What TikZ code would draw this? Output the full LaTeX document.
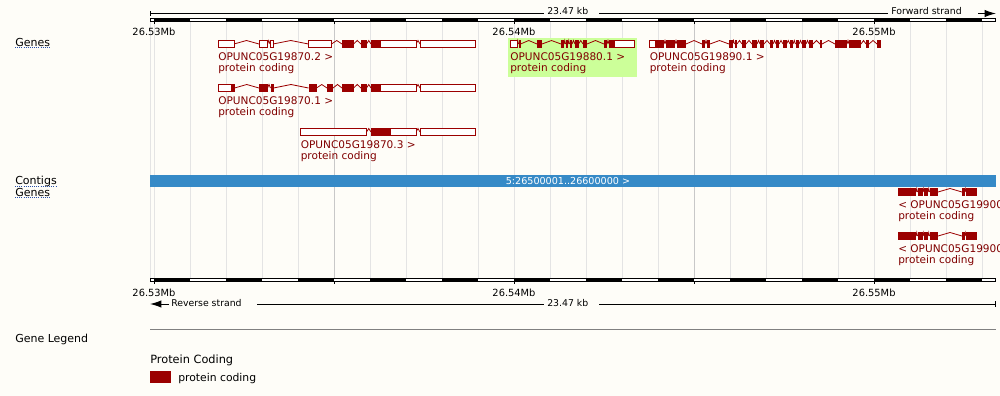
\documentclass[tikz,border=0pt]{standalone}
\usepackage{fontspec}
\setmainfont{DejaVu Sans}
\usetikzlibrary{arrows.meta}

\definecolor{bgcol}{RGB}{254,253,248}
\definecolor{genered}{RGB}{155,0,0}
\definecolor{labelred}{RGB}{128,0,0}
\definecolor{hilite}{RGB}{204,255,153}
\definecolor{contigblue}{RGB}{54,138,199}
\definecolor{gridlt}{RGB}{228,228,228}
\definecolor{griddk}{RGB}{200,200,200}
\definecolor{ulblue}{RGB}{40,80,170}

\tikzset{
  cds/.style={fill=genered},
  utr/.style={draw=genered, fill=white, line width=0.75pt},
  intron/.style={draw=genered, line width=0.6pt},
  glabel/.style={anchor=base west, inner sep=0pt, text=labelred, font=\fontsize{7.9}{9}\selectfont},
  tracklabel/.style={anchor=base west, inner sep=0pt, font=\fontsize{8.25}{10}\selectfont},
  rulerlabel/.style={anchor=base, inner sep=0pt, font=\fontsize{7.4}{9}\selectfont},
  strandlabel/.style={anchor=base west, inner sep=0pt, font=\fontsize{7}{8}\selectfont},
  trackline/.style={densely dotted, draw=ulblue, line width=0.6pt},
}

\begin{document}
\begin{tikzpicture}[x=0.75pt,y=-0.75pt]
    \useasboundingbox[fill=bgcol] (0,0) rectangle (1000,396);

    %grid
    \draw[gridlt, line width=0.75pt] (150,22) -- (150,278);
    \foreach \k in {0,...,23}
        \draw[gridlt, line width=0.75pt] ({154+36*\k},22) -- ({154+36*\k},278);
    \draw[griddk, line width=0.75pt] (334,22) -- (334,278);
    \draw[griddk, line width=0.75pt] (694,22) -- (694,278);

    %top ruler
    \draw[line width=0.75pt] (150,11) -- (150,16);
    \draw[line width=0.75pt] (150,13.5) -- (544,13.5);
    \node[strandlabel] (kbtop) at (547,14.5) {23.47 kb};
    \draw[line width=0.75pt] (599,13.5) -- (888,13.5);
    \node[strandlabel] (fwd) at (891,14.5) {Forward strand};
    \draw[line width=0.75pt] [-{Latex[length=8.5pt,width=5.5pt]}] (978,13.5) -- (996,13.5);
    \draw[line width=0.75pt, fill=white] (150,18.5) rectangle (995.5,21);
    \foreach \k in {0,...,11}
        \fill ({154+72*\k},18.5) rectangle ({190+72*\k},21);
    \foreach \x in {154,334,514,694,874}
        \draw[line width=0.75pt] (\x,21) -- (\x,24);
    \node[rulerlabel] (mbtop1) at (154,36) {26.53Mb};
    \node[rulerlabel] (mbtop2) at (514,36) {26.54Mb};
    \node[rulerlabel] (mbtop3) at (874,36) {26.55Mb};

    %track labels
    \node[tracklabel] (genestop) at (15,46) {Genes};
    \draw[trackline] ([yshift=-1.3pt]genestop.base west) -- ([yshift=-1.3pt]genestop.base east);
    \node[tracklabel] (contigs) at (15,184.5) {Contigs};
    \draw[trackline] ([yshift=-1.2pt]contigs.base west) -- ([yshift=-1.2pt]contigs.base east);
    \node[tracklabel] (genesbot) at (15,196) {Genes};
    \draw[trackline] ([yshift=-1.2pt]genesbot.base west) -- ([yshift=-1.2pt]genesbot.base east);

    %OPUNC05G19880.1 highlight
    \fill[hilite] (508,38) rectangle (637,77);

    %OPUNC05G19870.2
    \foreach \a/\b in {234/259,267.5/270,273/308.5,331.5/342,353.5/361,366.5/371,416/420}
        \draw[intron] (\a,44) -- ({(\a+\b)/2},40.5) -- (\b,44);
    \foreach \a/\b in {218/234,259/267.5,270/273,308.5/331.5,380/416,420/475.5}
        \draw[utr] (\a,40.5) rectangle (\b,47.5);
    \foreach \a/\b in {342/353.5,361/366.5,371/380}
        \fill[cds] (\a,40) rectangle (\b,48);
    \node[glabel] (t2name) at (218,60.7) {OPUNC05G19870.2 >};
    \node[glabel] (t2type) at (218,71.2) {protein coding};

    %OPUNC05G19870.1
    \begin{scope}[shift={(0,44)}]
    \foreach \a/\b in {234.5/259,267.5/270.5,273.5/308.5,316.5/327,333/342,353.5/361,366.5/371,416/420}
        \draw[intron] (\a,44) -- ({(\a+\b)/2},40.5) -- (\b,44);
    \foreach \a/\b in {218/231,380/416,420/475.5}
        \draw[utr] (\a,40.5) rectangle (\b,47.5);
    \foreach \a/\b in {231/234.5,259/267.5,270.5/273.5,308.5/316.5,327/333,342/353.5,361/366.5,371/380}
        \fill[cds] (\a,40) rectangle (\b,48);
    \node[glabel] (t1name) at (218,60.7) {OPUNC05G19870.1 >};
    \node[glabel] (t1type) at (218,71.2) {protein coding};
    \end{scope}

    %OPUNC05G19870.3
    \begin{scope}[shift={(0,88)}]
    \foreach \a/\b in {366.5/371,416/420}
        \draw[intron] (\a,44) -- ({(\a+\b)/2},40.5) -- (\b,44);
    \foreach \a/\b in {300.5/366.5,390/416,420/475.5}
        \draw[utr] (\a,40.5) rectangle (\b,47.5);
    \fill[cds] (371,40) rectangle (390,48);
    \node[glabel] (t3name) at (300.5,60.7) {OPUNC05G19870.3 >};
    \node[glabel] (t3type) at (300.5,71.2) {protein coding};
    \end{scope}

    %OPUNC05G19880.1
    \foreach \a/\b in {517/518.5,520.5/537,542/561,564/565.5,568/569.5,572/575,578.5/583,587/604,607/609}
        \draw[intron] (\a,44) -- ({(\a+\b)/2},40.5) -- (\b,44);
    \foreach \a/\b in {510/517,614/634.5}
        \draw[utr] (\a,40.5) rectangle (\b,47.5);
    \foreach \a/\b in {518.5/520.5,537/542,561/564,565.5/568,569.5/572,575/578.5,583/587,604/607,609/614}
        \fill[cds] (\a,40) rectangle (\b,48);
    \node[glabel] (t4name) at (510,60.7) {OPUNC05G19880.1 >};
    \node[glabel] (t4type) at (510,71.2) {protein coding};

    %OPUNC05G19890.1
    \foreach \a/\b in {664/666,675/677,686/702,705/707,710/729,732.5/734.5,737/742,746/752,757/760,764/770,773/776,779/783,786.5/790,793/795.5,799/802,806/809,813/820,822/835,847/849,861/866,869/877}
        \draw[intron] (\a,44) -- ({(\a+\b)/2},40.5) -- (\b,44);
    \draw[utr] (649.5,40.5) rectangle (655.5,47.5);
    \foreach \a/\b in {655.5/664,666/675,677/686,702/705,707/710,729/732.5,734.5/737,742/746,752/757,760/764,770/773,776/779,783/786.5,790/793,795.5/799,802/806,809/813,820/822,835/847,849/861,866/869,877/881}
        \fill[cds] (\a,40) rectangle (\b,48);
    \node[glabel] (t5name) at (649.5,60.7) {OPUNC05G19890.1 >};
    \node[glabel] (t5type) at (649.5,71.2) {protein coding};

    %contig
    \fill[contigblue] (150,175) rectangle (996,187);
    \node[anchor=base, inner sep=0pt, text=white, font=\fontsize{7.2}{9}\selectfont] (ctg) at (568,184.5) {5:26500001..26600000 >};

    %reverse strand genes
    \begin{scope}
    \clip (0,0) rectangle (1000,396);
    \foreach \dy/\nm in {148/r1, 192/r2} {
        \begin{scope}[shift={(0,\dy)}]
        \foreach \a/\b in {916/917.5,922.5/924,928/929.5,938/962,964.5/966}
            \draw[intron] (\a,44) -- ({(\a+\b)/2},40.5) -- (\b,44);
        \foreach \a/\b in {898/916,917.5/922.5,924/928,929.5/938,962/964.5,966/977}
            \fill[cds] (\a,40) rectangle (\b,48);
        \node[glabel] (\nm name) at (898,60.7) {< OPUNC05G19900};
        \node[glabel] (\nm type) at (898,71.2) {protein coding};
        \end{scope}
    }
    \end{scope}

    %bottom ruler
    \draw[line width=0.75pt, fill=white] (150,278.5) rectangle (995.5,281);
    \foreach \k in {0,...,11}
        \fill ({154+72*\k},278.5) rectangle ({190+72*\k},281);
    \foreach \x in {154,334,514,694,874}
        \draw[line width=0.75pt] (\x,281) -- (\x,284);
    \node[rulerlabel] (mbbot1) at (154,296.5) {26.53Mb};
    \node[rulerlabel] (mbbot2) at (514,296.5) {26.54Mb};
    \node[rulerlabel] (mbbot3) at (874,296.5) {26.55Mb};
    \draw[line width=0.75pt] [-{Latex[length=8.5pt,width=5.5pt]}] (169,304) -- (150,304);
    \node[strandlabel] (rev) at (171,306) {Reverse strand};
    \draw[line width=0.75pt] (257,304) -- (544,304);
    \node[strandlabel] (kbbot) at (547,306) {23.47 kb};
    \draw[line width=0.75pt] (599,304) -- (995,304);
    \draw[line width=0.75pt] (995,301) -- (995,307);

    %legend
    \draw[gray, line width=0.75pt] (150,329.5) -- (996,329.5);
    \node[tracklabel] (legend) at (15,342) {Gene Legend};
    \node[anchor=base west, inner sep=0pt, font=\fontsize{8.5}{10}\selectfont] (legtitle) at (150,363) {Protein Coding};
    \fill[genered] (150,371) rectangle (171,383);
    \node[anchor=base west, inner sep=0pt, font=\fontsize{8.1}{10}\selectfont] (legitem) at (178,381.5) {protein coding};
\end{tikzpicture}
\end{document}
